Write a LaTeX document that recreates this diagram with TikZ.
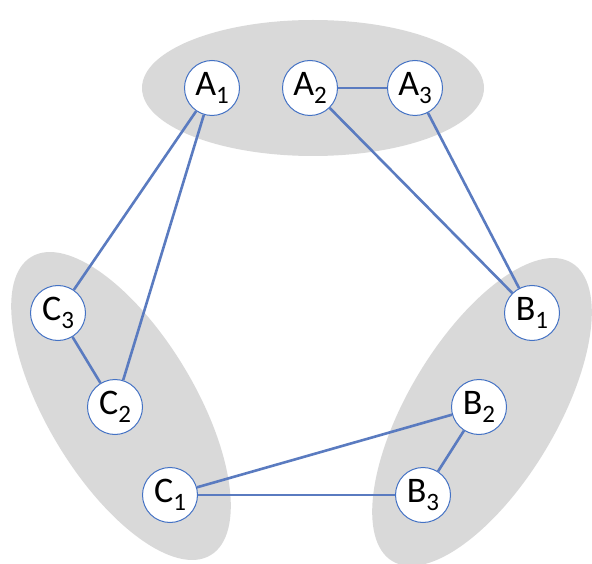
\documentclass[tikz,border=0pt]{standalone}
\usepackage{fontspec}
\setmainfont{Carlito}
\definecolor{grp}{HTML}{D9D9D9}
\definecolor{edge}{HTML}{5A7BC0}
\definecolor{ring}{HTML}{4472C4}
\newcommand{\lab}[2]{#1\raisebox{-7.5pt}{\fontsize{25}{25}\selectfont #2}}
\begin{document}
\begin{tikzpicture}[x=1pt,y=-1pt,
  grpshape/.style={fill=grp,draw=none},
  vtx/.style={circle,draw=ring,line width=1pt,fill=white,minimum size=55pt,inner sep=0pt,font=\fontsize{36}{36}\selectfont},
  link/.style={draw=edge,line width=2.6pt}]
\useasboundingbox (0,0) rectangle (592,564);
\fill[grpshape] (313,88) ellipse [x radius=171, y radius=68];
\fill[grpshape,rotate around={-59:(121,406)}] (121,406) ellipse [x radius=174, y radius=74];
\fill[grpshape,rotate around={59:(482,412)}] (482,412) ellipse [x radius=174, y radius=74];
\node[vtx] (A1) at (212,88) {\lab{A}{1}};
\node[vtx] (A2) at (310,88) {\lab{A}{2}};
\node[vtx] (A3) at (415,88) {\lab{A}{3}};
\node[vtx] (C3) at (58,313) {\lab{C}{3}};
\node[vtx] (C2) at (115,407) {\lab{C}{2}};
\node[vtx] (C1) at (170,495) {\lab{C}{1}};
\node[vtx] (B1) at (532,313) {\lab{B}{1}};
\node[vtx] (B2) at (479,407) {\lab{B}{2}};
\node[vtx] (B3) at (423,495) {\lab{B}{3}};
\draw[link] (A1) -- (C3);
\draw[link] (A1) -- (C2);
\draw[link] (C3) -- (C2);
\draw[link] (A2) -- (A3);
\draw[link] (A2) -- (B1);
\draw[link] (A3) -- (B1);
\draw[link] (B2) -- (B3);
\draw[link] (C1) -- (B2);
\draw[link] (C1) -- (B3);
\end{tikzpicture}
\end{document}
